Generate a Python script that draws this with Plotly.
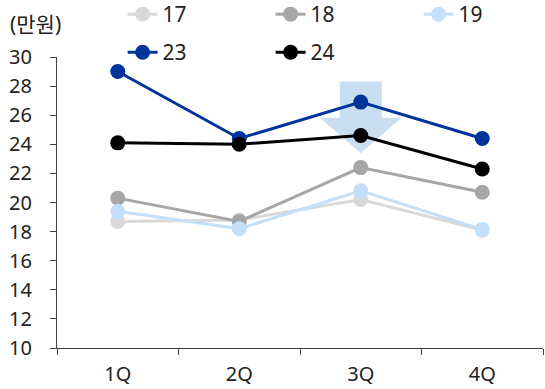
import plotly.graph_objects as go

quarters = ["1Q", "2Q", "3Q", "4Q"]

s17 = [18.7, 18.8, 20.2, 18.1]
s18 = [20.3, 18.7, 22.4, 20.7]
s19 = [19.4, 18.2, 20.8, 18.15]
s23 = [29.0, 24.4, 26.9, 24.4]
s24 = [24.1, 24.0, 24.6, 22.3]

series = [
    ("17", s17, "#d9d9d9", "legend"),
    ("18", s18, "#a6a6a6", "legend"),
    ("19", s19, "#c3dffa", "legend"),
    ("23", s23, "#00349a", "legend2"),
    ("24", s24, "#000000", "legend2"),
]

FONT = "Noto Sans, Noto Sans CJK KR, sans-serif"

fig = go.Figure()
for name, vals, color, leg in series:
    fig.add_trace(go.Scatter(
        x=quarters, y=vals, name=name, mode="lines+markers",
        line=dict(color=color, width=3),
        marker=dict(color=color, size=15),
        legend=leg,
    ))

# downward block arrow behind the 3Q points (category index 2)
cx = 2
sh, hh = 0.173, 0.337
top, neck, tip = 28.31, 25.83, 23.41
path = (f"M{cx-sh},{top} L{cx+sh},{top} L{cx+sh},{neck} L{cx+hh},{neck} "
        f"L{cx},{tip} L{cx-hh},{neck} L{cx-sh},{neck} Z")
fig.add_shape(type="path", path=path, xref="x", yref="y",
              fillcolor="#c9def0", line=dict(width=0), layer="below")

fig.add_annotation(text="(만원)", xref="paper", yref="paper",
                   x=-0.101, y=1.112, xanchor="left", yanchor="middle",
                   showarrow=False, font=dict(family=FONT, size=21, color="#222"))

legend_common = dict(orientation="h", xanchor="left", yanchor="middle",
                     font=dict(family=FONT, size=21, color="#222"),
                     entrywidth=103, entrywidthmode="pixels",
                     bgcolor="rgba(0,0,0,0)", itemclick=False)

fig.update_layout(
    width=545, height=389,
    margin=dict(l=57, r=2, t=57, b=41, autoexpand=False),
    paper_bgcolor="white", plot_bgcolor="white",
    font=dict(family=FONT, size=20, color="#222"),
    legend=dict(x=0.135, y=1.146, **legend_common),
    legend2=dict(x=0.135, y=1.015, **legend_common),
    xaxis=dict(
        type="category", showgrid=False, zeroline=False,
        showline=True, linecolor="#404040", linewidth=1,
        ticks="outside", tickson="boundaries", ticklen=6,
        tickcolor="#404040", range=[-0.5, 3.5],
        tickfont=dict(family=FONT, size=20, color="#222"),
        ticklabelstandoff=8,
    ),
    yaxis=dict(
        range=[10, 30], dtick=2, showgrid=False, zeroline=False,
        showline=True, linecolor="#404040", linewidth=1,
        ticks="outside", ticklen=6, tickcolor="#404040",
        tickfont=dict(family=FONT, size=20, color="#222"),
        ticklabelstandoff=14,
    ),
    showlegend=True,
)

fig.write_html("out.html")
